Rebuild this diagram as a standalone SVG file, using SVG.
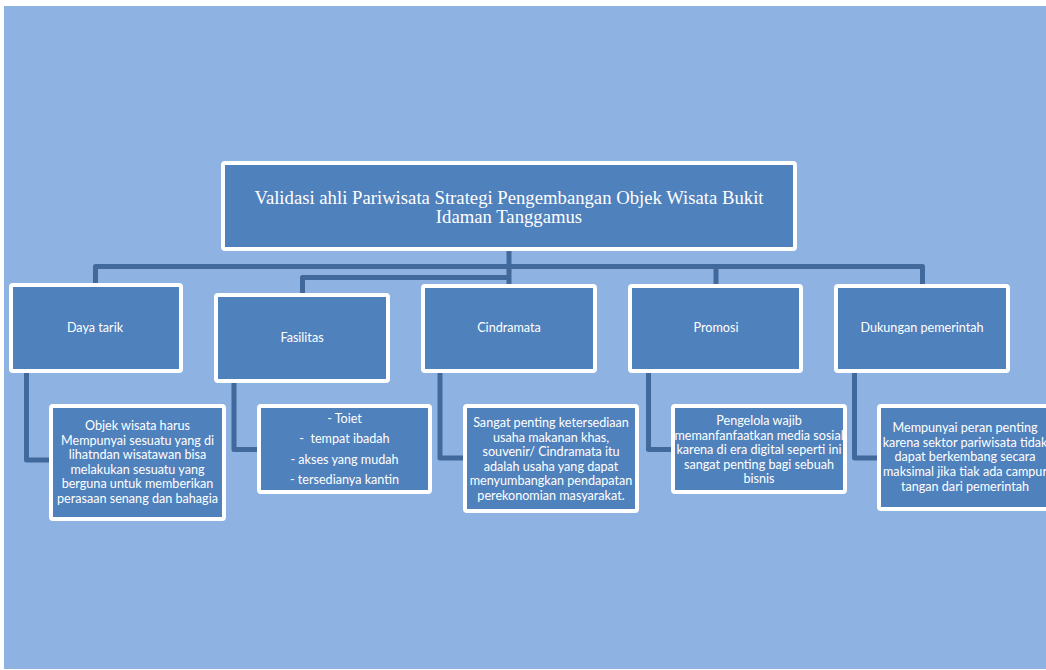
<svg xmlns="http://www.w3.org/2000/svg" width="1046" height="670" viewBox="0 0 1046 670">
<style>
.box{fill:#4F81BD;stroke:#FFFFFF;stroke-width:4}
.ln{fill:none;stroke:#41699B;stroke-width:5;stroke-linejoin:round}
.t{font-family:Lato,"Open Sans",sans-serif;font-size:12.6px;fill:#FFFFFF;text-anchor:middle;white-space:pre}
.r{font-family:"Liberation Serif","Times New Roman",serif;font-size:18.7px;fill:#FFFFFF;text-anchor:middle}
</style>
<defs>
<clipPath id="cpPro"><rect x="671" y="404" width="176" height="90"/></clipPath>
<clipPath id="cpDuk"><rect x="877" y="404" width="176" height="107"/></clipPath>
</defs>
<rect x="0" y="0" width="1046" height="670" fill="#FFFFFF"/>
<rect x="4" y="6" width="1042" height="663" fill="#8EB3E2"/>
<g id="connectors">
<path class="ln" d="M509 251 V286"/>
<path class="ln" d="M95.5 285 V266.5 H922.5 V286"/>
<path class="ln" d="M302.5 295 V277.5 H509"/>
<path class="ln" d="M716 266.5 V286"/>
<path class="ln" d="M26.5 371 V460 H51"/>
<path class="ln" d="M234 381 V449.5 H259"/>
<path class="ln" d="M440 371 V458 H465"/>
<path class="ln" d="M648.5 371 V449.5 H673"/>
<path class="ln" d="M854.5 371 V458 H879"/>
</g>
<g id="root">
<rect class="box" x="223" y="163" width="572" height="86" rx="2"/>
<text class="r" x="509" y="204">Validasi ahli Pariwisata Strategi Pengembangan Objek Wisata Bukit</text>
<text class="r" x="509" y="223">Idaman Tanggamus</text>
</g>
<g id="daya-tarik">
<rect class="box" x="11" y="285" width="170" height="86" rx="2"/>
<text class="t" x="95" y="332">Daya tarik</text>
</g>
<g id="fasilitas">
<rect class="box" x="216" y="295" width="172" height="86" rx="2"/>
<text class="t" x="302" y="342">Fasilitas</text>
</g>
<g id="cindramata">
<rect class="box" x="423" y="286" width="172" height="85" rx="2"/>
<text class="t" x="509" y="332">Cindramata</text>
</g>
<g id="promosi">
<rect class="box" x="630" y="286" width="171" height="85" rx="2"/>
<text class="t" x="716" y="332">Promosi</text>
</g>
<g id="dukungan">
<rect class="box" x="836" y="286" width="172" height="85" rx="2"/>
<text class="t" x="922" y="332">Dukungan pemerintah</text>
</g>
<g id="daya-tarik-detail">
<rect class="box" x="51" y="406" width="173" height="113" rx="2"/>
<text class="t" x="137.5" y="430">Objek wisata harus</text>
<text class="t" x="137.5" y="444.6">Mempunyai sesuatu yang di</text>
<text class="t" x="137.5" y="459.2">lihatndan wisatawan bisa</text>
<text class="t" x="137.5" y="473.8">melakukan sesuatu yang</text>
<text class="t" x="137.5" y="488.4">berguna untuk memberikan</text>
<text class="t" x="137.5" y="503">perasaan senang dan bahagia</text>
</g>
<g id="fasilitas-detail">
<rect class="box" x="259" y="406" width="171" height="86" rx="2"/>
<text class="t" x="344.5" y="423">- Toiet</text>
<text class="t" x="344.5" y="443">-  tempat ibadah</text>
<text class="t" x="344.5" y="464">- akses yang mudah</text>
<text class="t" x="344.5" y="484">- tersedianya kantin</text>
</g>
<g id="cindramata-detail">
<rect class="box" x="465" y="406" width="172" height="105" rx="2"/>
<text class="t" x="551" y="427">Sangat penting ketersediaan</text>
<text class="t" x="551" y="441.6">usaha makanan khas,</text>
<text class="t" x="551" y="456.2">souvenir/ Cindramata itu</text>
<text class="t" x="551" y="470.8">adalah usaha yang dapat</text>
<text class="t" x="551" y="485.4">menyumbangkan pendapatan</text>
<text class="t" x="551" y="500">perekonomian masyarakat.</text>
</g>
<g id="promosi-detail">
<rect class="box" x="673" y="406" width="172" height="86" rx="2"/>
<g clip-path="url(#cpPro)">
<text class="t" x="759" y="425">Pengelola wajib</text>
<text class="t" x="759" y="439.5">memanfanfaatkan media sosial</text>
<text class="t" x="759" y="454">karena di era digital seperti ini</text>
<text class="t" x="759" y="468.5">sangat penting bagi sebuah</text>
<text class="t" x="759" y="483">bisnis</text>
</g>
</g>
<g id="dukungan-detail">
<rect class="box" x="879" y="406" width="172" height="103" rx="2"/>
<g clip-path="url(#cpDuk)">
<text class="t" x="965" y="432">Mempunyai peran penting</text>
<text class="t" x="965" y="446.7">karena sektor pariwisata tidak</text>
<text class="t" x="965" y="461.4">dapat berkembang secara</text>
<text class="t" x="965" y="476.1">maksimal jika tiak ada campur</text>
<text class="t" x="965" y="490.8">tangan dari pemerintah</text>
</g>
</g>
</svg>
